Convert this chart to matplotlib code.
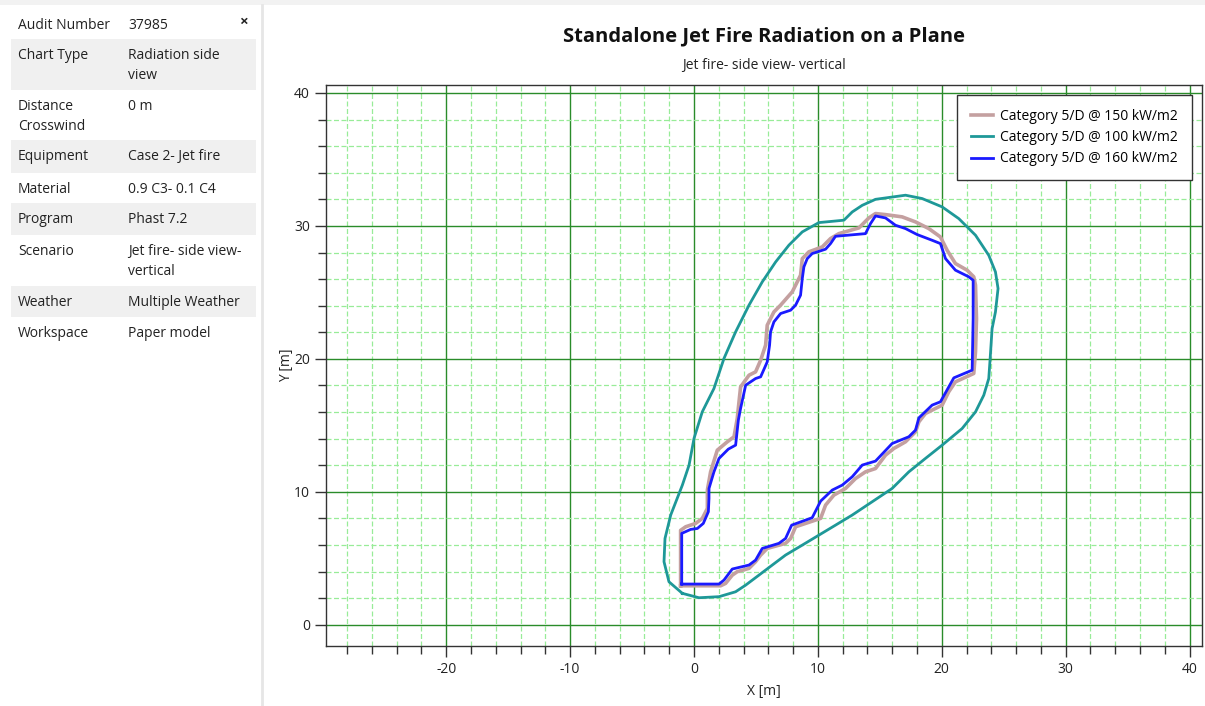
import matplotlib.pyplot as plt
from matplotlib.patches import Rectangle
from matplotlib.lines import Line2D

plt.rcParams['font.family'] = ['Open Sans', 'DejaVu Sans']
plt.rcParams['axes.unicode_minus'] = False

# info panel
info_keys = ['Audit Number', 'Chart Type', 'Distance\nCrosswind', 'Equipment', 'Material',
             'Program', 'Scenario', 'Weather', 'Workspace']
info_values = ['37985', 'Radiation side\nview', '0 m', 'Case 2- Jet fire', '0.9 C3- 0.1 C4',
               'Phast 7.2', 'Jet fire- side view-\nvertical', 'Multiple Weather', 'Paper model']

# contour data (x, y in m)
x_150 = [-1.08, -1.08, -0.67, 0.13, 0.67, 1.08, 1.08, 1.34, 1.88, 2.69, 3.23, 3.49, 3.76, 4.44,
         4.97, 5.38, 5.78, 5.91, 6.45, 6.99, 7.93, 8.60, 8.74, 9.27, 10.35, 11.02, 11.69, 13.31,
         14.11, 14.65, 15.46, 16.80, 17.88, 18.95, 19.89, 20.43, 21.10, 22.04, 22.58, 22.72,
         22.80, 22.72, 22.58, 21.10, 20.56, 20.03, 18.68, 18.15, 17.88, 17.07, 16.13, 15.46,
         14.65, 13.84, 13.04, 12.23, 11.29, 10.62, 10.22, 8.20, 7.80, 7.39, 5.91, 5.38, 4.97,
         4.44, 3.49, 3.09, 2.55, 2.15, -1.08]
y_150 = [2.93, 7.10, 7.37, 7.62, 8.00, 8.75, 10.13, 11.50, 13.13, 13.76, 14.14, 15.51, 17.89,
         18.77, 19.02, 19.90, 21.03, 22.53, 23.53, 24.04, 25.04, 26.29, 27.54, 28.05, 28.42,
         29.05, 29.42, 29.85, 30.60, 30.93, 30.85, 30.68, 30.30, 29.80, 29.17, 28.17, 27.17,
         26.67, 26.17, 25.54, 23.03, 20.53, 18.90, 18.27, 17.52, 16.52, 15.89, 15.26, 14.51,
         13.76, 13.26, 12.76, 11.75, 11.50, 11.00, 10.25, 9.75, 9.00, 8.00, 7.37, 6.49, 6.12,
         5.74, 5.24, 4.74, 4.24, 3.99, 3.73, 3.11, 2.93, 2.93]

x_100 = [-0.94, -2.02, -2.42, -2.34, -1.88, -0.94, -0.40, 0.00, 0.67, 1.61, 2.42, 3.36, 4.44,
         5.51, 6.59, 7.66, 8.74, 10.08, 12.10, 12.77, 13.58, 14.65, 17.07, 18.41, 20.03, 21.37,
         22.72, 23.79, 24.33, 24.54, 24.33, 24.06, 23.92, 23.79, 23.39, 22.72, 21.64, 20.03,
         18.68, 17.34, 15.99, 14.38, 12.77, 11.42, 10.08, 8.74, 7.39, 6.32, 5.24, 4.17, 3.36,
         2.02, 0.40, -0.94]
y_100 = [2.36, 3.23, 4.74, 6.49, 8.25, 10.50, 12.00, 14.01, 16.02, 17.77, 20.03, 22.03, 24.04,
         25.79, 27.29, 28.55, 29.55, 30.25, 30.43, 31.05, 31.55, 32.00, 32.31, 32.06, 31.43,
         30.55, 29.30, 27.79, 26.54, 25.29, 23.53, 22.28, 20.28, 18.52, 17.27, 16.01, 14.76,
         13.51, 12.51, 11.50, 10.25, 9.25, 8.25, 7.49, 6.74, 5.99, 5.24, 4.49, 3.73, 2.98, 2.48,
         2.11, 2.03, 2.36]

x_160 = [-0.99, 2.02, 2.42, 3.09, 4.44, 4.97, 5.51, 6.85, 7.39, 7.88, 9.54, 10.22, 11.16, 11.96,
         12.77, 13.58, 14.65, 15.99, 17.34, 17.88, 18.15, 19.22, 19.89, 20.97, 22.45, 22.53,
         22.53, 22.18, 21.10, 20.30, 19.89, 19.22, 18.01, 17.07, 16.26, 15.46, 14.65, 14.25,
         13.84, 11.42, 11.02, 10.62, 9.54, 9.14, 8.87, 8.74, 8.60, 8.20, 7.80, 6.99, 6.45, 6.18,
         6.10, 5.91, 5.38, 4.97, 4.17, 3.76, 3.58, 3.36, 2.77, 2.02, 1.61, 1.21, 1.21, 1.16,
         0.75, 0.27, -0.27, -0.99, -0.99]
y_160 = [3.06, 3.06, 3.36, 4.19, 4.49, 4.86, 5.74, 6.12, 6.49, 7.49, 8.05, 9.30, 10.13, 10.50,
         11.13, 12.01, 12.31, 13.63, 14.14, 14.64, 15.56, 16.52, 16.77, 18.57, 19.15, 23.03,
         25.91, 26.17, 26.67, 27.54, 28.67, 28.92, 29.35, 29.80, 30.05, 30.60, 30.75, 30.18,
         29.42, 29.22, 28.67, 28.25, 27.92, 27.54, 26.92, 26.04, 24.79, 24.04, 23.66, 23.41,
         22.78, 22.03, 21.03, 19.77, 18.65, 18.52, 18.02, 16.27, 15.39, 13.51, 13.21, 12.51,
         11.50, 10.25, 9.50, 8.50, 7.62, 7.24, 7.17, 6.87, 3.06]

series = [
    ('Category 5/D @ 150 kW/m2', x_150, y_150, '#c4a0a0', 2.6),
    ('Category 5/D @ 100 kW/m2', x_100, y_100, '#1e9898', 2.0),
    ('Category 5/D @ 160 kW/m2', x_160, y_160, '#1a1aff', 2.0),
]

W, H = 1205, 706
fig = plt.figure(figsize=(W / 100, H / 100), dpi=100)

# top strip
fig.patches.append(Rectangle((0, 1 - 5 / H), 1, 5 / H, transform=fig.transFigure,
                             facecolor='#f2f2f2', edgecolor='none'))

# left info panel
row_bounds = [9, 39, 90, 140, 173, 203, 235, 286, 317, 347]
for i, (k, v) in enumerate(zip(info_keys, info_values)):
    top, bot = row_bounds[i], row_bounds[i + 1]
    color = '#ffffff' if i % 2 == 0 else '#f0f0f0'
    fig.patches.append(Rectangle((11 / W, 1 - bot / H), 245 / W, (bot - top) / H,
                                 transform=fig.transFigure, facecolor=color, edgecolor='none'))
    fig.text(18 / W, 1 - (top + 9) / H, k, fontsize=10, va='top', ha='left',
             color='#222222', linespacing=1.45)
    fig.text(128 / W, 1 - (top + 9) / H, v, fontsize=10, va='top', ha='left',
             color='#222222', linespacing=1.45)
fig.text(243 / W, 1 - 22 / H, '\u00d7', fontsize=11, fontweight='bold', ha='center',
         va='center', color='#222222')
fig.add_artist(Line2D([262 / W, 262 / W], [0, 1 - 5 / H], transform=fig.transFigure,
                      color='#e6e6e6', linewidth=2))

ax = fig.add_axes([326 / W, (H - 646) / H, (1202 - 326) / W, (646 - 85) / H])

for label, xs, ys, color, lw in series:
    ax.plot(xs, ys, color=color, linewidth=lw, label=label, solid_joinstyle='round')

ax.set_xlim(-29.7, 41.0)
ax.set_ylim(-1.6, 40.6)
ax.set_xticks(range(-20, 41, 10))
ax.set_xticks(range(-28, 41, 2), minor=True)
ax.set_yticks(range(0, 41, 10))
ax.set_yticks(range(0, 41, 2), minor=True)

ax.grid(which='major', color='#2a8c2a', linewidth=1.0, linestyle='-')
ax.grid(which='minor', color='#98ec98', linewidth=0.9, linestyle=(0, (4, 2)))
ax.set_axisbelow(True)

ax.tick_params(which='both', direction='out', length=6, width=1, color='#333333',
               labelsize=10, labelcolor='#222222')
ax.tick_params(which='major', length=8)
for side in ['left', 'bottom', 'top', 'right']:
    ax.spines[side].set_color('#333333')
    ax.spines[side].set_linewidth(1.0)

ax.set_xlabel('X [m]', fontsize=10, color='#222222', labelpad=5)
ax.set_ylabel('Y [m]', fontsize=10, color='#222222', labelpad=0)

fig.text(764 / W, 1 - 36 / H, 'Standalone Jet Fire Radiation on a Plane', fontsize=14.5,
         fontweight='bold', ha='center', va='center', color='#111111')
fig.text(764 / W, 1 - 65 / H, 'Jet fire- side view- vertical', fontsize=10, ha='center',
         va='center', color='#222222')

leg = ax.legend(loc='upper right', bbox_to_anchor=(1192 / W, 1 - 95 / H),
                bbox_transform=fig.transFigure, fontsize=10, fancybox=False, framealpha=1,
                edgecolor='#333333', handlelength=1.6, handletextpad=0.5, labelspacing=0.45,
                borderpad=1.0, borderaxespad=0)
leg.get_frame().set_linewidth(1.0)

fig.savefig('out.png', dpi=100)
